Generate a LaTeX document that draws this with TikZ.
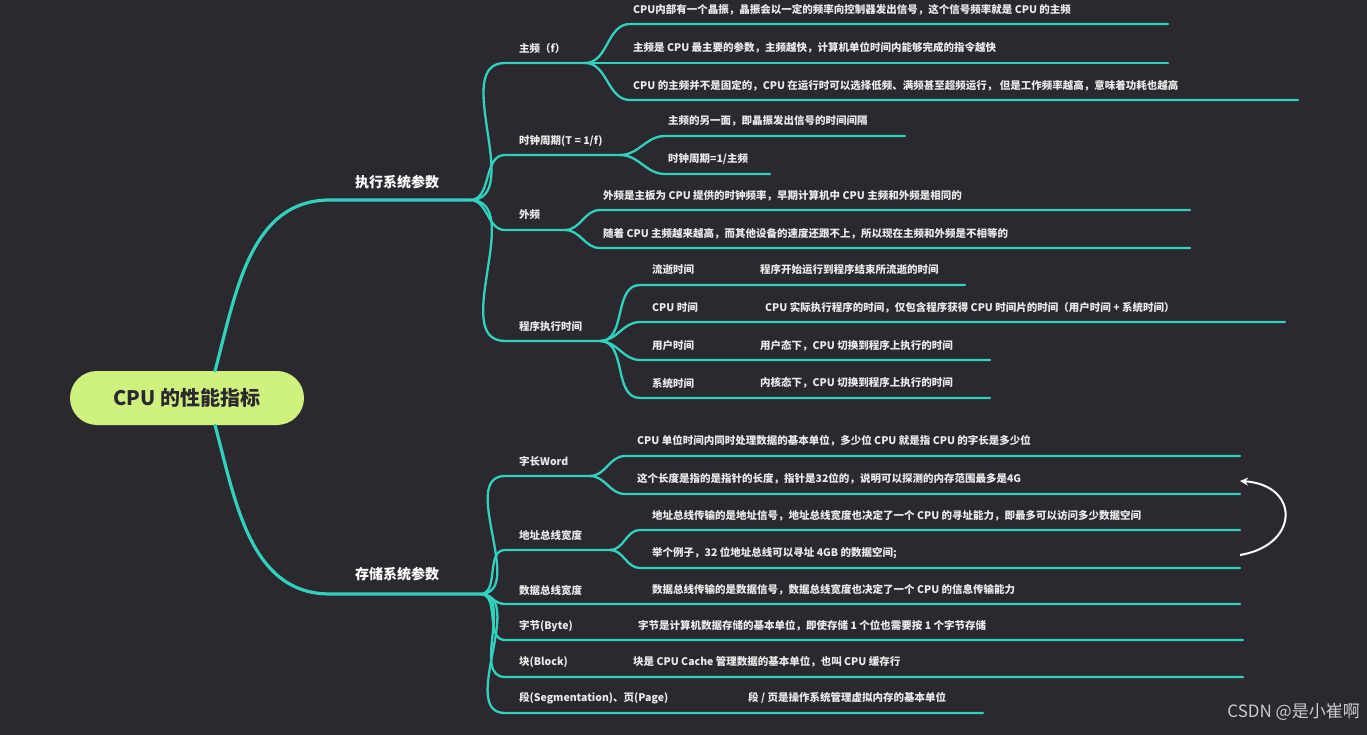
\documentclass[tikz,border=0pt]{standalone}
\usepackage{fontspec}
\setmainfont{Noto Sans CJK SC}
\newfontfamily\cjkb{Noto Sans CJK SC Bold}
\usetikzlibrary{arrows.meta}
\definecolor{bg}{HTML}{2C2830}
\definecolor{teal}{HTML}{2FD3BD}
\definecolor{rootc}{HTML}{CFF27E}
\tikzset{
 br/.style={draw=teal,line width=2.3pt,line cap=round},
 thick br/.style={draw=teal,line width=3.2pt,line cap=round},
 tx/.style={anchor=west,text=white!92!black,font=\fontsize{10.5}{12}\selectfont\bfseries,inner sep=0},
 mid/.style={anchor=west,text=white,font=\fontsize{14}{16}\selectfont\bfseries,inner sep=0},
}
\begin{document}
\begin{tikzpicture}[x=1pt,y=-1pt]
\fill[bg] (0,0) rectangle (1367,735);
\useasboundingbox (0,0) rectangle (1367,735);
% root
\node[fill=rootc,rounded corners=27pt,minimum width=234pt,minimum height=54pt,text=bg,font=\fontsize{20}{22}\selectfont\bfseries] (root) at (187,398) {CPU 的性能指标};
\coordinate (r1) at (215,371);
\coordinate (r2) at (215,425);
% main branches
\coordinate (A0) at (330,200); \coordinate (A1) at (470,200);
\coordinate (B0) at (330,594); \coordinate (B1) at (480,594);
\draw[thick br] (r1) to[out=75,in=180] (A0) -- (A1);
\draw[thick br] (r2) to[out=-75,in=180] (B0) -- (B1);
\node[mid] (At) at (355,182) {执行系统参数};
\node[mid] (Bt) at (355,574) {存储系统参数};
% ---- 执行 sub-branches
\coordinate (a10) at (505,63); \coordinate (a11) at (585,63);
\coordinate (a20) at (505,155); \coordinate (a21) at (620,155);
\coordinate (a30) at (505,230); \coordinate (a31) at (565,230);
\coordinate (a40) at (505,341); \coordinate (a41) at (600,341);
\foreach \n in {a1,a2,a3,a4}{\draw[br] (A1) to[out=0,in=180] (\n0) -- (\n1);}
\node[tx] at (519,49) {主频（f）};
\node[tx] at (519,141) {时钟周期(T = 1/f)};
\node[tx] at (519,215) {外频};
\node[tx] at (519,327) {程序执行时间};
% leaves of 主频
\coordinate (l10) at (630,24) ; \coordinate (l11) at (1168,24);
\coordinate (l20) at (630,63) ; \coordinate (l21) at (1168,63);
\coordinate (l30) at (630,100); \coordinate (l31) at (1298,100);
\foreach \n in {l1,l2,l3}{\draw[br] (a11) to[out=0,in=180] (\n0) -- (\n1);}
\node[tx] at (633,10) {CPU内部有一个晶振，晶振会以一定的频率向控制器发出信号，这个信号频率就是 CPU 的主频};
\node[tx] at (633,48) {主频是 CPU 最主要的参数，主频越快，计算机单位时间内能够完成的指令越快};
\node[tx] at (633,86) {CPU 的主频并不是固定的，CPU 在运行时可以选择低频、满频甚至超频运行， 但是工作频率越高，意味着功耗也越高};
% 时钟周期
\coordinate (m10) at (665,136); \coordinate (m11) at (905,136);
\coordinate (m20) at (665,174); \coordinate (m21) at (770,174);
\foreach \n in {m1,m2}{\draw[br] (a21) to[out=0,in=180] (\n0) -- (\n1);}
\node[tx] at (668,121) {主频的另一面，即晶振发出信号的时间间隔};
\node[tx] at (668,159) {时钟周期=1/主频};
% 外频
\coordinate (n10) at (600,210); \coordinate (n11) at (1190,210);
\coordinate (n20) at (600,248); \coordinate (n21) at (1190,248);
\foreach \n in {n1,n2}{\draw[br] (a31) to[out=0,in=180] (\n0) -- (\n1);}
\node[tx] at (603,196) {外频是主板为 CPU 提供的时钟频率，早期计算机中 CPU 主频和外频是相同的};
\node[tx] at (603,234) {随着 CPU 主频越来越高，而其他设备的速度还跟不上，所以现在主频和外频是不相等的};
% 程序执行时间
\coordinate (p10) at (640,285); \coordinate (p11) at (965,285);
\coordinate (p20) at (640,322); \coordinate (p21) at (1285,322);
\coordinate (p30) at (640,360); \coordinate (p31) at (990,360);
\coordinate (p40) at (640,398); \coordinate (p41) at (990,398);
\foreach \n in {p1,p2,p3,p4}{\draw[br] (a41) to[out=0,in=180] (\n0) -- (\n1);}
\node[tx] at (652,270) {流逝时间};
\node[tx] at (760,270) {程序开始运行到程序结束所流逝的时间};
\node[tx] at (652,308) {CPU 时间};
\node[tx] at (765,308) {CPU 实际执行程序的时间，仅包含程序获得 CPU 时间片的时间（用户时间 + 系统时间）};
\node[tx] at (652,346) {用户时间};
\node[tx] at (760,346) {用户态下，CPU 切换到程序上执行的时间};
\node[tx] at (652,383) {系统时间};
\node[tx] at (760,383) {内核态下，CPU 切换到程序上执行的时间};
% ---- 存储 sub-branches
\coordinate (b10) at (505,476); \coordinate (b11) at (590,476);
\coordinate (b20) at (505,550); \coordinate (b21) at (610,550);
\coordinate (b30) at (505,604); \coordinate (b31) at (1240,604);
\coordinate (b40) at (505,640); \coordinate (b41) at (1243,640);
\coordinate (b50) at (505,677); \coordinate (b51) at (1243,677);
\coordinate (b60) at (505,713); \coordinate (b61) at (983,713);
\foreach \n in {b1,b2,b3,b4,b5,b6}{\draw[br] (B1) to[out=0,in=180] (\n0) -- (\n1);}
\node[tx] at (519,461) {字长Word};
\node[tx] at (519,535) {地址总线宽度};
\node[tx] at (519,590) {数据总线宽度};
\node[tx] at (652,590) {数据总线传输的是数据信号，数据总线宽度也决定了一个 CPU 的信息传输能力};
\node[tx] at (519,626) {字节(Byte)};
\node[tx] at (638,626) {字节是计算机数据存储的基本单位，即使存储 1 个位也需要按 1 个字节存储};
\node[tx] at (519,662) {块(Block)};
\node[tx] at (633,662) {块是 CPU Cache 管理数据的基本单位，也叫 CPU 缓存行};
\node[tx] at (519,698) {段(Segmentation)、页(Page)};
\node[tx] at (748,698) {段 / 页是操作系统管理虚拟内存的基本单位};
% 字长
\coordinate (q10) at (625,456); \coordinate (q11) at (1240,456);
\coordinate (q20) at (625,494); \coordinate (q21) at (1240,494);
\foreach \n in {q1,q2}{\draw[br] (b11) to[out=0,in=180] (\n0) -- (\n1);}
\node[tx] at (637,441) {CPU 单位时间内同时处理数据的基本单位，多少位 CPU 就是指 CPU 的字长是多少位};
\node[tx] at (637,479) {这个长度是指的是指针的长度，指针是32位的，说明可以探测的内存范围最多是4G};
% 地址
\coordinate (s10) at (640,530); \coordinate (s11) at (1240,530);
\coordinate (s20) at (640,568); \coordinate (s21) at (1240,568);
\foreach \n in {s1,s2}{\draw[br] (b21) to[out=0,in=180] (\n0) -- (\n1);}
\node[tx] at (652,516) {地址总线传输的是地址信号，地址总线宽度也决定了一个 CPU 的寻址能力，即最多可以访问多少数据空间};
\node[tx] at (652,553) {举个例子，32 位地址总线可以寻址 4GB 的数据空间;};
% white arrow
\coordinate (w0) at (1240,555);
\coordinate (w1) at (1240,481);
\draw[white,line width=2pt,-{Stealth[length=8pt,width=8pt]}] (w0) .. controls (1300,545) and (1300,485) .. (w1);
% watermark
\node[anchor=east,text=white!80!black,font=\fontsize{17}{19}\selectfont,inner sep=0] (wm) at (1360,712) {CSDN @是小崔啊};
\end{tikzpicture}
\end{document}
